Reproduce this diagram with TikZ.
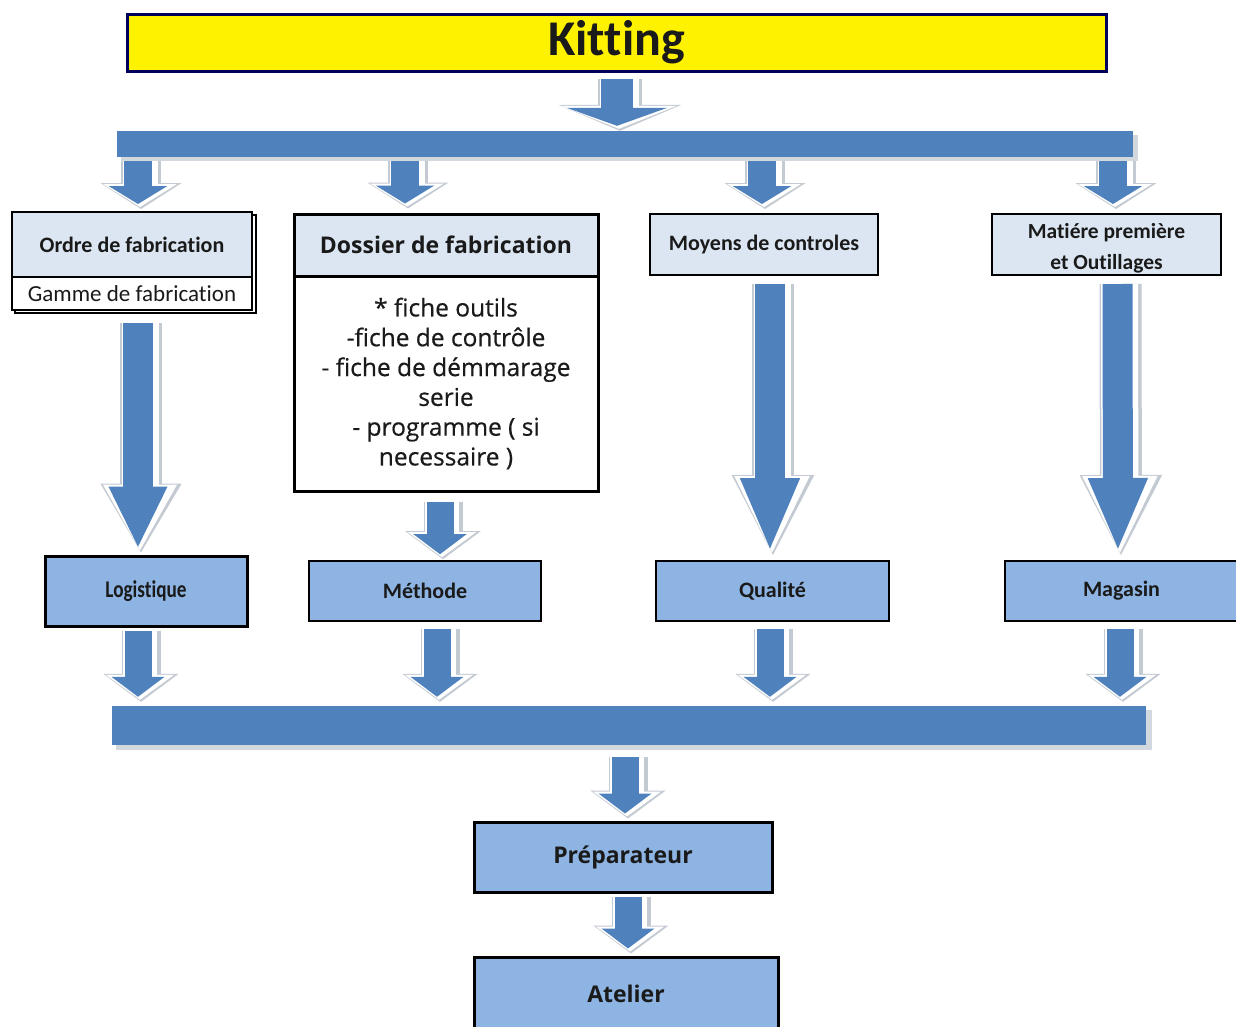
\documentclass[tikz,border=0pt]{standalone}
\usepackage{fontspec}
\usepackage{graphicx}
\setmainfont[Ligatures={NoCommon}]{Carlito}
\newfontfamily\osans{Open Sans}
\newfontfamily\osansmed[FakeBold=0.5]{Open Sans}
\usetikzlibrary{arrows.meta,calc}

\definecolor{barblue}{HTML}{4F81BD}
\definecolor{shadecol}{HTML}{C4CAD2}
\definecolor{barshade}{HTML}{D3D8DF}
\definecolor{hdrfill}{HTML}{DCE6F2}
\definecolor{boxblue}{HTML}{8DB4E2}
\definecolor{kitline}{HTML}{00005A}
\definecolor{txt}{HTML}{1A1A1A}

% bevelled block arrow: shaft width, head width, head length, start, end
\newcommand\flowarrow[5]{%
  \pgfmathsetmacro\fsw{#1+12}%
  \pgfmathsetmacro\fhw{#2+22}%
  \pgfmathsetmacro\fhl{#3+8}%
  \pgfmathsetmacro\wsw{#1+7}%
  \pgfmathsetmacro\whw{#2+15}%
  \pgfmathsetmacro\whl{#3+5}%
  \draw[draw=shadecol, line width=\fsw pt, transform canvas={xshift=3pt},
        shorten >=-5pt, -{Triangle[width=\fhw pt,length=\fhl pt]}] (#4) -- (#5);
  \draw[draw=white, line width=\wsw pt, transform canvas={xshift=2pt},
        shorten >=-3pt, -{Triangle[width=\whw pt,length=\whl pt]}] (#4) -- (#5);
  \draw[draw=barblue, line width=#1pt,
        -{Triangle[width=#2pt,length=#3pt]}] (#4) -- (#5);
}

\tikzset{
  box/.style={draw=black, line width=2pt, inner sep=0pt, text=txt, align=center},
  hdrbox/.style={box, fill=hdrfill},
  bluebox/.style={box, fill=boxblue},
  bar/.style={fill=barblue, inner sep=0pt, draw=none},
  calb/.style={font=\fontsize{22}{26}\selectfont\bfseries},
  osb/.style={font=\fontsize{23}{26}\selectfont\osans\bfseries},
}

\begin{document}
\begin{tikzpicture}[x=1pt,y=-1pt]
\useasboundingbox (0,0) rectangle (1236,1026);
\clip (0,0) rectangle (1236,1026);
\fill[white] (0,0) rectangle (1236,1026);

% title
\node[box, fill=yellow, draw=kitline, line width=3pt, minimum width=979pt, minimum height=57pt,
      font=\fontsize{50}{50}\selectfont\bfseries] (kit) at (616.5,42.5) {Kitting};

% distribution bars with their light shadows
\fill[barshade] (121,135) rectangle (1138,161);
\node[bar, minimum width=1016pt, minimum height=26pt] (bartop) at (625,144) {};
\fill[barshade] (116,710) rectangle (1152,750);
\node[bar, minimum width=1034pt, minimum height=39pt] (barbot) at (629,725.5) {};

% documents
\draw[line width=1.5pt] (15,215) rectangle (256,313);
\node[hdrbox, minimum width=240pt, minimum height=65pt, calb] (ordre) at (132,244.5) {Ordre de fabrication};
\node[box, fill=white, minimum width=240pt, minimum height=33pt,
      font=\fontsize{23}{26}\selectfont] (gamme) at (132,293.5) {Gamme de fabrication};

\node[box, fill=white, line width=3pt, minimum width=304pt, minimum height=215pt,
      font=\fontsize{24.5}{29.8}\selectfont\osansmed] (dossb) at (446,383.5)
      {* fiche outils\\-fiche de contrôle\\- fiche de démmarage\\serie\\- programme ( si\\necessaire )};
\node[hdrbox, line width=3pt, minimum width=304pt, minimum height=62pt, osb] (dossh) at (446,245) {Dossier de fabrication};

\node[hdrbox, minimum width=228pt, minimum height=61pt, calb] (moy) at (764,244.5) {Moyens de controles};
\node[hdrbox, minimum width=229pt, minimum height=61pt] (mat) at (1106.5,244.5) {};
\node[text=txt, align=center, inner sep=0pt, font=\fontsize{21.5}{31}\selectfont\bfseries] (mattext)
      at ($(mat)+(0,4)$) {Matiére première\\et Outillages};

% departments
\node[bluebox, line width=3pt, minimum width=202pt, minimum height=70pt,
      font=\fontsize{24}{26}\selectfont\bfseries] (log) at (146,591) {\scalebox{0.8}[1]{Logistique}};
\node[bluebox, line width=1.6pt, minimum width=232pt, minimum height=60pt, calb] (meth) at (425,591) {Méthode};
\node[bluebox, minimum width=233pt, minimum height=60pt, calb] (qual) at (772.5,591) {Qualité};
\node[bluebox, minimum width=233pt, minimum height=60pt, calb] (mag) at (1121.5,591) {Magasin};

\node[bluebox, line width=3pt, minimum width=298pt, minimum height=70pt, osb] (prep) at (623,857) {Préparateur};
\node[bluebox, line width=3pt, minimum width=304pt, minimum height=73pt, osb] (atel) at (626,993.5) {Atelier};

% arrows
\flowarrow{32}{100}{18}{$(kit.south)+(0.5,6)$}{$(bartop.north)+(-8,-5)$}

\flowarrow{28}{58}{18}{$(bartop.south)+(-487,4)$}{$(ordre.north)+(6,-7)$}
\flowarrow{28}{58}{18}{$(bartop.south)+(-220,4)$}{$(dossh.north)+(-41,-9)$}
\flowarrow{28}{58}{18}{$(bartop.south)+(137,4)$}{$(moy.north)+(-2,-9)$}
\flowarrow{28}{58}{18}{$(bartop.south)+(488,4)$}{$(mat.north)+(6.5,-9)$}

\flowarrow{30}{54}{62}{$(gamme.south)+(6,12)$}{$(log.north)+(-8,-6)$}
\flowarrow{30}{54}{74}{$(moy.south)+(6,8)$}{$(qual.north)+(-2.5,-8)$}
\flowarrow{30}{54}{74}{$(mat.south)+(11,8)$}{$(mag.north)+(-3.5,-8)$}
\flowarrow{27}{52}{20}{$(dossb.south)+(-6,9)$}{$(meth.north)+(15,-6)$}

\flowarrow{27}{52}{20}{$(log.south)+(-8,3)$}{$(barbot.north)+(-491,-9)$}
\flowarrow{27}{52}{20}{$(meth.south)+(12,7)$}{$(barbot.north)+(-192,-9)$}
\flowarrow{27}{52}{20}{$(qual.south)+(-2.5,7)$}{$(barbot.north)+(141,-9)$}
\flowarrow{27}{52}{20}{$(mag.south)+(-1.5,7)$}{$(barbot.north)+(491,-9)$}

\flowarrow{27}{52}{20}{$(barbot.south)+(-4,12)$}{$(prep.north)+(2,-7)$}
\flowarrow{27}{52}{20}{$(prep.south)+(5,3)$}{$(atel.north)+(2,-7)$}
\end{tikzpicture}
\end{document}
